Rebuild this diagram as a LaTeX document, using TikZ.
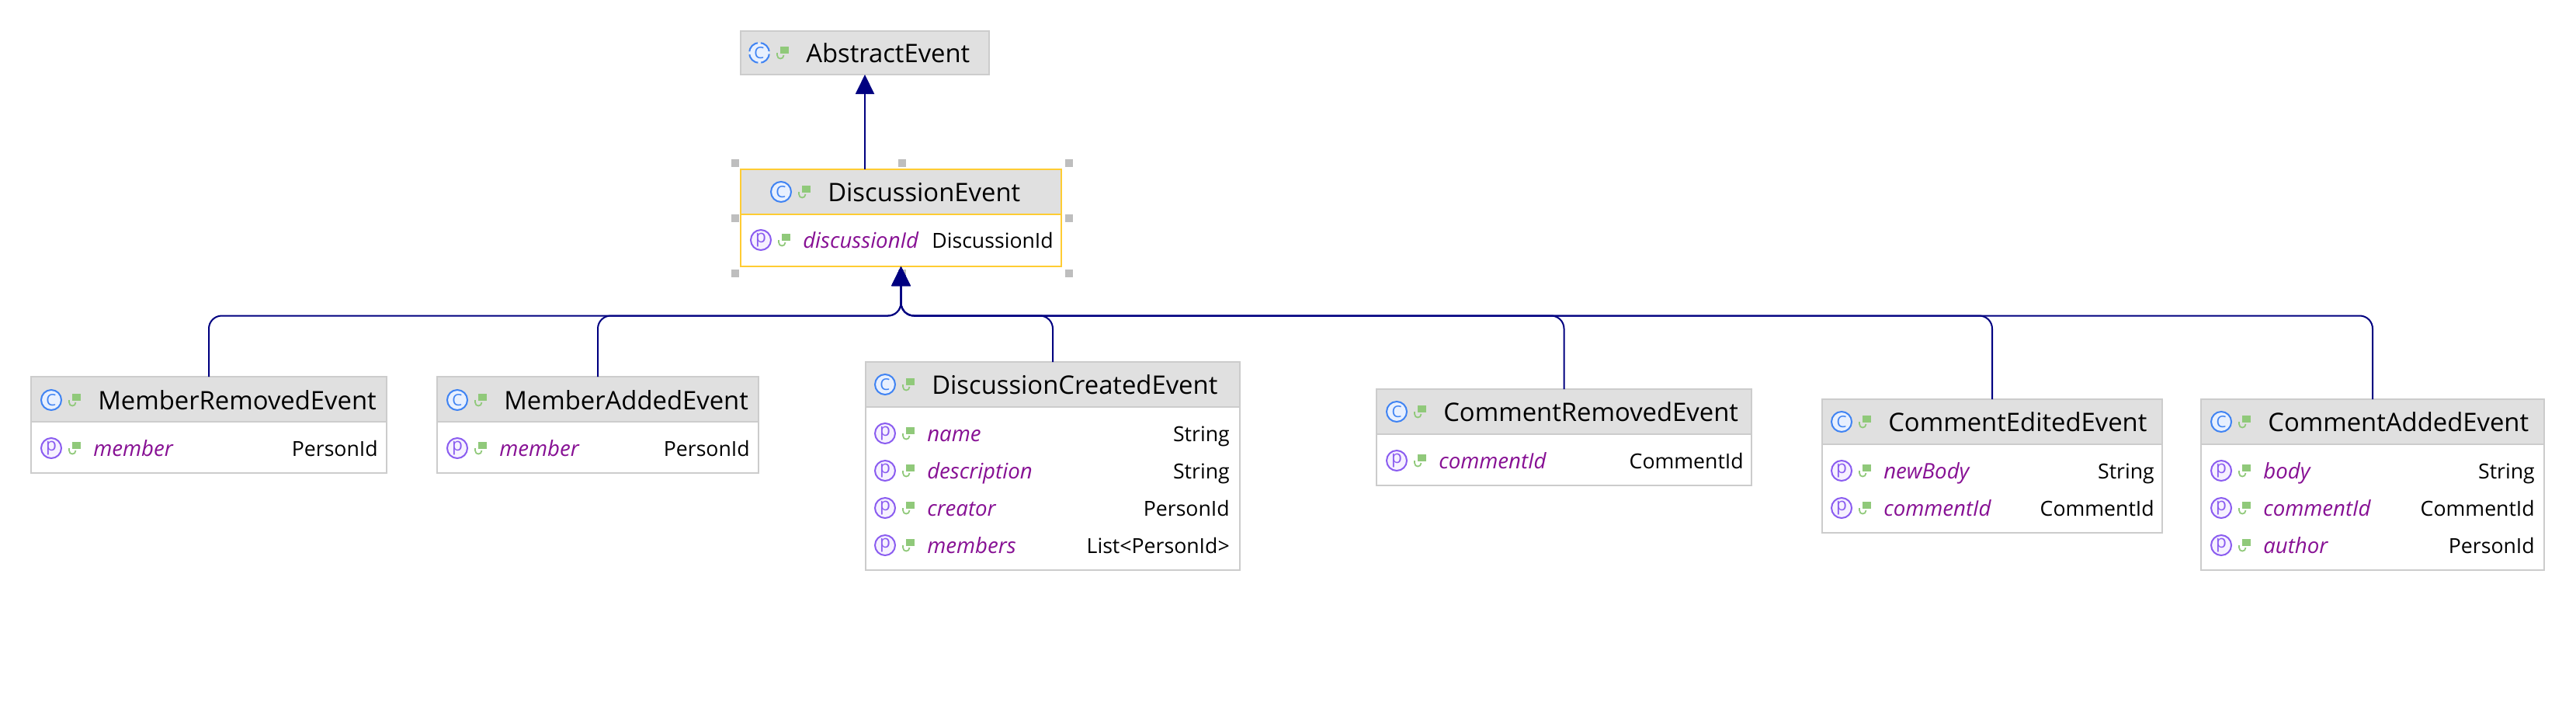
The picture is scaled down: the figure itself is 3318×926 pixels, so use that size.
\documentclass[tikz,border=0pt]{standalone}
\usepackage{fontspec}
\setmainfont{Open Sans}
\usetikzlibrary{arrows.meta}

\definecolor{boxgray}{HTML}{CCCCCC}
\definecolor{headgray}{HTML}{E0E0E0}
\definecolor{handlegray}{HTML}{BEBEBE}
\definecolor{selyellow}{HTML}{FFCC33}
\definecolor{linknavy}{HTML}{000080}
\definecolor{iconblue}{HTML}{3F83F3}
\definecolor{iconbluefill}{HTML}{E8F0FE}
\definecolor{iconpurple}{HTML}{8A5CF0}
\definecolor{iconpurplefill}{HTML}{F6F1FF}
\definecolor{fieldpurple}{HTML}{871094}
\definecolor{lockgreen}{HTML}{90C97A}

\tikzset{
  size/.style 2 args={minimum width=#1*0.75pt,minimum height=#2*0.75pt},
  classbox/.style={draw=boxgray,line width=1.1pt,fill=white,inner sep=0pt,outer sep=0pt,anchor=north west},
  headbox/.style={classbox,fill=headgray},
  selbox/.style={draw=selyellow,line width=1pt},
  handle/.style={fill=handlegray,inner sep=0pt,minimum size=7.5pt},
  cicon/.style={circle,draw=iconblue,fill=iconbluefill,line width=1.5pt,minimum size=19.5pt,inner sep=0pt,text=iconblue,font=\fontsize{15.5}{15.5}\selectfont},
  picon/.style={circle,draw=iconpurple,fill=iconpurplefill,line width=1.5pt,minimum size=19.5pt,inner sep=0pt,text=iconpurple,font=\fontsize{17}{17}\selectfont},
  titletext/.style={anchor=west,inner sep=0pt,text height=19pt,text depth=0pt,font=\fontsize{24.6}{28}\selectfont},
  fieldname/.style={anchor=west,inner sep=0pt,text height=15.5pt,text depth=0pt,text=fieldpurple,font=\fontsize{20.7}{24}\selectfont\itshape},
  fieldtype/.style={anchor=east,inner sep=0pt,text height=15.5pt,text depth=0pt,font=\fontsize{20}{24}\selectfont},
  inheritline/.style={draw=linknavy,line width=1.5pt,rounded corners=12.5pt,-{Triangle[length=18.75pt,width=18pt]}},
  lockicon/.pic={
    \fill[lockgreen] (26.5,-1) rectangle (38,8);
    \draw[lockgreen,line width=1.3pt] (23,0) -- (23,-3) .. controls (23,-9) and (31.5,-9) .. (31.5,-3);
  }
}

% id, icon x, y, title
\newcommand{\classhead}[5][]{
  \node[cicon,#1] (#2Icon) at (#3,#4) {C};
  \pic at (#3,#4) {lockicon};
  \node[titletext] (#2Title) at (#3+60,#4) {#5};
}
% id, icon x, y, name, right x, type
\newcommand{\fieldrow}[6]{
  \node[picon] (#1Icon) at (#2,#3) {p};
  \pic at (#2,#3) {lockicon};
  \node[fieldname] (#1Name) at (#2+54,#3) {#4};
  \node[fieldtype] (#1Type) at (#5+1,#3) {#6};
}

\begin{document}
\begin{tikzpicture}[x=0.75pt,y=0.75pt,yscale=-1,xscale=1]
\useasboundingbox (0,0) rectangle (3318,926);

%Selection handles
\foreach \hx/\hy/\hname in {947/210/a,1162/210/b,1377/210/c,947/281/d,1377/281/e,947/352/f,1162/352/g,1377/352/h}
  \node[handle] (handle\hname) at (\hx,\hy) {};

%Class boxes
\node[headbox,size={320}{56}] (abstractEvent) at (954,40) {};
\node[classbox,selbox,size={413}{125}] (discussionEvent) at (954,218) {};
\node[headbox,selbox,size={413}{58}] (discussionHead) at (954,218) {};
\node[classbox,size={458}{124}] (memberRemoved) at (40,485) {};
\node[headbox,size={458}{58}] (memberRemovedHead) at (40,485) {};
\node[classbox,size={414}{124}] (memberAdded) at (563,485) {};
\node[headbox,size={414}{58}] (memberAddedHead) at (563,485) {};
\node[classbox,size={482}{268}] (discussionCreated) at (1115,466) {};
\node[headbox,size={482}{58}] (discussionCreatedHead) at (1115,466) {};
\node[classbox,size={483}{124}] (commentRemoved) at (1773,501) {};
\node[headbox,size={483}{58}] (commentRemovedHead) at (1773,501) {};
\node[classbox,size={438}{172}] (commentEdited) at (2347,514) {};
\node[headbox,size={438}{58}] (commentEditedHead) at (2347,514) {};
\node[classbox,size={442}{220}] (commentAdded) at (2835,514) {};
\node[headbox,size={442}{58}] (commentAddedHead) at (2835,514) {};

%Inheritance lines
\coordinate (busHub) at (1160.5,406.5);
\draw[inheritline] (memberRemoved.north) |- (busHub) -- (discussionEvent.south);
\draw[inheritline] (memberAdded.north) |- (busHub) -- (discussionEvent.south);
\draw[inheritline] (discussionCreated.north) |- (busHub) -- (discussionEvent.south);
\draw[inheritline] (commentRemoved.north) |- (busHub) -- (discussionEvent.south);
\draw[inheritline] (commentEdited.north) |- (busHub) -- (discussionEvent.south);
\draw[inheritline] (commentAdded.north) |- (busHub) -- (discussionEvent.south);
\draw[inheritline] (abstractEvent.south |- discussionEvent.north) -- (abstractEvent.south);

% Text Node
\classhead[dash pattern=on 12.3pt off 3pt,dash phase=-1.5pt]{abstract}{978}{68}{AbstractEvent}
\classhead{discussion}{1006}{247}{DiscussionEvent}
\fieldrow{discussionId}{980}{309}{discussionId}{1356}{DiscussionId}
% Text Node
\classhead{removed}{66}{515}{MemberRemovedEvent}
\fieldrow{removedMember}{66}{577}{member}{486}{PersonId}
% Text Node
\classhead{added}{589}{515}{MemberAddedEvent}
\fieldrow{addedMember}{589}{577}{member}{965}{PersonId}
% Text Node
\classhead{created}{1140}{495}{DiscussionCreatedEvent}
\fieldrow{createdName}{1140}{558}{name}{1583}{String}
\fieldrow{createdDescription}{1140}{606}{description}{1583}{String}
\fieldrow{createdCreator}{1140}{654}{creator}{1583}{PersonId}
\fieldrow{createdMembers}{1140}{702}{members}{1583}{List<PersonId>}
% Text Node
\classhead{commentGone}{1799}{530}{CommentRemovedEvent}
\fieldrow{goneCommentId}{1799}{593}{commentId}{2245}{CommentId}
% Text Node
\classhead{edited}{2372}{543}{CommentEditedEvent}
\fieldrow{editedBody}{2372}{606}{newBody}{2774}{String}
\fieldrow{editedCommentId}{2372}{654}{commentId}{2774}{CommentId}
% Text Node
\classhead{commentNew}{2861}{543}{CommentAddedEvent}
\fieldrow{newBody}{2861}{606}{body}{3264}{String}
\fieldrow{newCommentId}{2861}{654}{commentId}{3264}{CommentId}
\fieldrow{newAuthor}{2861}{702}{author}{3264}{PersonId}

\end{tikzpicture}
\end{document}
